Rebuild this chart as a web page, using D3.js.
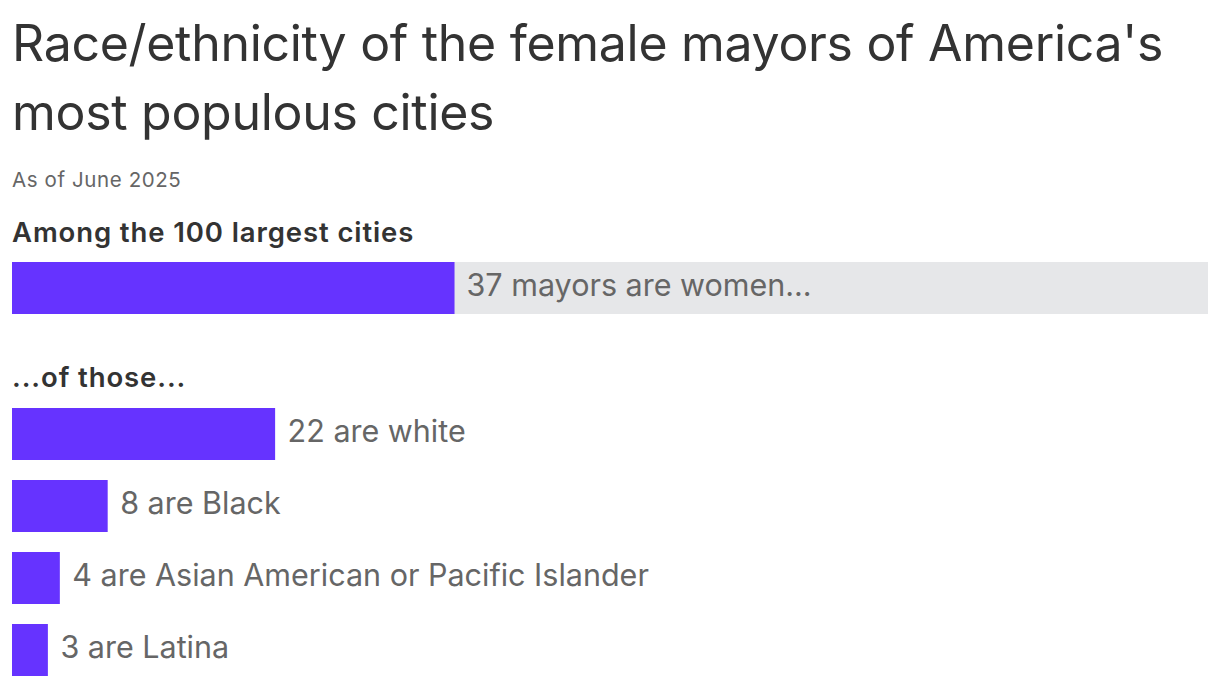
<!DOCTYPE html>
<html>
<head>
<meta charset="utf-8">
<script src="https://cdn.jsdelivr.net/npm/d3@7"></script>
<style>
  body { margin: 0; background: #fff; }
  svg { display: block; font-family: Inter, "Noto Sans", sans-serif; }
  .title { font-size: 50px; fill: #333; letter-spacing: -0.3px; }
  .subtitle { font-size: 20.5px; fill: #666; letter-spacing: 0.6px; }
  .group-label { font-size: 27.5px; font-weight: 600; fill: #333; letter-spacing: 0.9px; }
  .bar-label { font-size: 30.5px; fill: #666; letter-spacing: 0px; }
</style>
</head>
<body>
<div id="wrapper"></div>
<script>
const titleLines = ["Race/ethnicity of the female mayors of America's", "most populous cities"]
const subtitle = "As of June 2025"

const totalCities = 100
const womenMayors = 37
const womenLabel = "37 mayors are women..."

const races = ["white", "Black", "Asian American or Pacific Islander", "Latina"]
const raceCounts = [22, 8, 4, 3]

const dimensions = {
  width: 1220,
  height: 686,
  margin: { left: 12, right: 12 },
}
dimensions.boundedWidth = dimensions.width - dimensions.margin.left - dimensions.margin.right

const barColor = "#6633ff"
const trackColor = "#e6e7e9"
const barHeight = 52
const rowStep = 72

const svg = d3.select("#wrapper")
  .append("svg")
    .attr("width", dimensions.width)
    .attr("height", dimensions.height)

const xScale = d3.scaleLinear()
  .domain([0, totalCities])
  .range([dimensions.margin.left, dimensions.margin.left + dimensions.boundedWidth])

// title + subtitle
svg.selectAll(".title")
  .data(titleLines)
  .enter().append("text")
    .attr("class", "title")
    .attr("x", dimensions.margin.left)
    .attr("y", (d, i) => 61 + i * 69)
    .text(d => d)

svg.append("text")
  .attr("class", "subtitle")
  .attr("x", dimensions.margin.left)
  .attr("y", 187)
  .text(subtitle)

// top block: women among the 100 largest
svg.append("text")
  .attr("class", "group-label")
  .attr("x", dimensions.margin.left)
  .attr("y", 242)
  .text("Among the 100 largest cities")

const topY = 262
svg.append("rect")
  .attr("x", xScale(0))
  .attr("y", topY)
  .attr("width", xScale(totalCities) - xScale(0))
  .attr("height", barHeight)
  .attr("fill", trackColor)

svg.append("rect")
  .attr("x", xScale(0))
  .attr("y", topY)
  .attr("width", xScale(womenMayors) - xScale(0))
  .attr("height", barHeight)
  .attr("fill", barColor)

svg.append("text")
  .attr("class", "bar-label")
  .attr("x", xScale(womenMayors) + 12)
  .attr("y", topY + barHeight / 2)
  .attr("dy", 8)
  .text(womenLabel)

// breakdown
svg.append("text")
  .attr("class", "group-label")
  .attr("x", dimensions.margin.left)
  .attr("y", 387)
  .text("...of those...")

const breakdownTop = 408
const yScale = d3.scaleBand()
  .domain(races)
  .range([breakdownTop, breakdownTop + rowStep * races.length - (rowStep - barHeight)])
  .paddingInner((rowStep - barHeight) / rowStep)
  .paddingOuter(0)

const rows = svg.selectAll(".row")
  .data(races.map((r, i) => ({ race: r, count: raceCounts[i] })))
  .enter().append("g")
    .attr("class", "row")

rows.append("rect")
  .attr("x", xScale(0))
  .attr("y", d => yScale(d.race))
  .attr("width", d => xScale(d.count) - xScale(0))
  .attr("height", yScale.bandwidth())
  .attr("fill", barColor)

rows.append("text")
  .attr("class", "bar-label")
  .attr("x", d => xScale(d.count) + 12.5)
  .attr("y", d => yScale(d.race) + yScale.bandwidth() / 2)
  .attr("dy", 8)
  .text(d => `${d.count} are ${d.race}`)
</script>
</body>
</html>
